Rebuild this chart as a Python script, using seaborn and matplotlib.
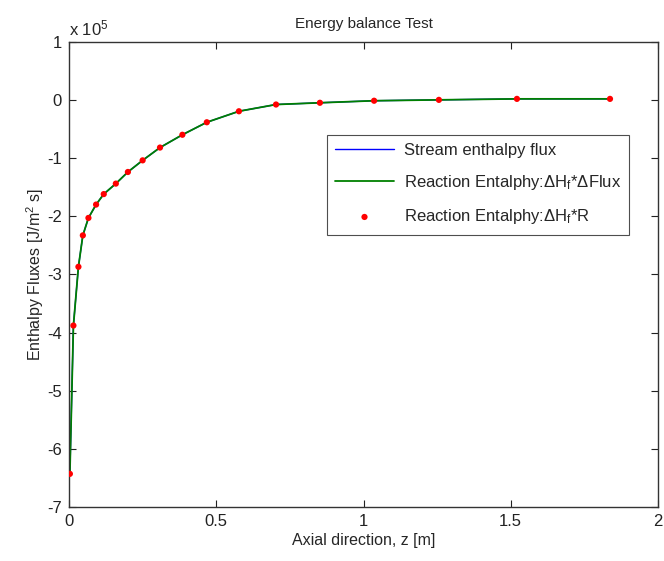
import matplotlib
matplotlib.use("Agg")
import matplotlib.pyplot as plt
import seaborn as sns
import pandas as pd

# Data (enthalpy values in units of 1e5 J/m^2 s)
z = [0.003, 0.015, 0.032, 0.047, 0.066, 0.092, 0.118, 0.159, 0.200, 0.250,
     0.309, 0.385, 0.468, 0.577, 0.703, 0.852, 1.036, 1.256, 1.521, 1.837]
h = [-6.43, -3.88, -2.87, -2.33, -2.03, -1.80, -1.62, -1.44, -1.24, -1.04,
     -0.82, -0.60, -0.385, -0.196, -0.08, -0.05, -0.015, 0.0, 0.017, 0.017]
xticks = [0, 0.5, 1, 1.5, 2]
yticks = [-7, -6, -5, -4, -3, -2, -1, 0, 1]

sns.set_style("white")
plt.rcParams['font.family'] = ['Liberation Sans', 'DejaVu Sans']
plt.rcParams['mathtext.fontset'] = 'custom'
plt.rcParams['mathtext.rm'] = 'Liberation Sans'
plt.rcParams['mathtext.it'] = 'Liberation Sans'

df = pd.DataFrame({"z": z, "h": h})

fig = plt.figure(figsize=(6.64, 5.61), dpi=100)
ax = fig.add_axes([69/664, 1-507/561, (658-69)/664, (507-41.7)/561])

sns.lineplot(data=df, x="z", y="h", ax=ax, color="#0000ff", lw=1.0,
             label="Stream enthalpy flux", estimator=None, sort=False)
sns.lineplot(data=df, x="z", y="h", ax=ax, color="#008000", lw=1.3,
             label="Reaction Entalphy:$\\Delta$H$_f$*$\\Delta$Flux", estimator=None, sort=False)
sns.scatterplot(data=df, x="z", y="h", ax=ax, color="#ff0000", s=20, marker="o",
                edgecolor="none", label="Reaction Entalphy:$\\Delta$H$_f$*R", zorder=5)

ax.set_xlim(0, 2)
ax.set_ylim(-7, 1)
ax.set_xticks(xticks)
ax.set_xticklabels([f"{t:g}" for t in xticks])
ax.set_yticks(yticks)
ax.set_yticklabels([f"{t:g}" for t in yticks])
ax.tick_params(direction="in", length=5, width=0.8, top=True, right=True,
               bottom=True, left=True, labelsize=12, colors="#222222", pad=5)
for s in ax.spines.values():
    s.set_color("#333333")
    s.set_linewidth(1.0)

ax.set_xlabel("Axial direction, z [m]", fontsize=11.5, labelpad=3)
ax.set_ylabel("Enthalpy Fluxes [J/m$^2$ s]", fontsize=11.5, labelpad=1)
ax.set_title("Energy balance Test", fontsize=11, pad=10)
ax.text(0.0, 1.008, "x 10$^5$", transform=ax.transAxes, fontsize=12,
        ha="left", va="bottom")

leg = ax.legend(loc="upper left", bbox_to_anchor=((327-69)/589, 1-(135-41.7)/465.3),
                fontsize=12, frameon=True, fancybox=False, edgecolor="#222222",
                borderaxespad=0, handlelength=3.5, handletextpad=0.6,
                labelspacing=0.9, borderpad=0.5)
leg.get_frame().set_linewidth(0.8)

fig.savefig("out.png", dpi=100)
